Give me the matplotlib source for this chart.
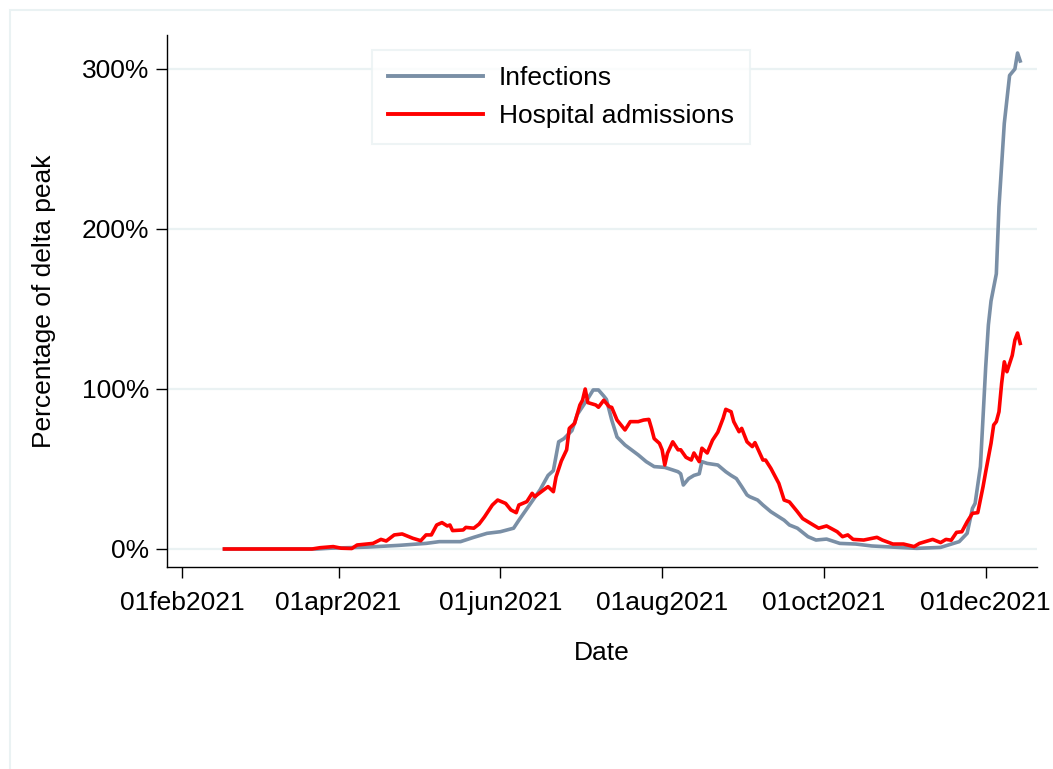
import numpy as np
import matplotlib
matplotlib.use("Agg")
import matplotlib.pyplot as plt
from matplotlib.patches import Rectangle

# ---- data (days since 01feb2021, % of delta peak) ----
base_date = "2021-02-01"

inf_days = [16, 51, 56, 70, 82, 92, 97, 105, 110, 115, 120, 125, 127, 131, 135, 138,
            140, 142, 144, 147, 149, 153, 155, 157, 159, 160, 162, 164, 167, 172, 175,
            178, 182, 185, 187, 188, 189, 191, 193, 195, 196, 198, 202, 205, 207, 209,
            211, 213, 214, 217, 219, 222, 227, 229, 232, 236, 239, 243, 248, 254, 260,
            270, 277, 286, 293, 296, 298, 299, 301, 302, 303, 304, 305, 307, 308, 310,
            312, 313, 314, 315, 316]
inf_vals = [0, 0, 0.5, 1.2, 2.3, 3.5, 4.6, 4.6, 7.3, 9.8, 10.8, 13, 18, 27.5, 37, 46,
            49, 67, 69, 74, 84, 94, 99.4, 99.4, 95.6, 93.5, 80.6, 70, 65, 58.8, 54.6,
            51.5, 51, 49.4, 48.3, 47, 40, 44, 46, 47, 54.6, 53.5, 52.5, 48.3, 46, 44,
            39, 33.8, 32.7, 30.6, 27.5, 23.3, 18, 15, 13, 7.7, 5.6, 6.2, 3.5, 3.1, 1.9,
            1, 0.4, 1, 4.6, 9.8, 25.4, 28.5, 51.5, 82.7, 114, 140, 155, 172, 214, 266,
            296, 298, 300, 310, 305]

hosp_days = [16, 49, 52, 57, 60, 64, 66, 72, 75, 77, 80, 83, 87, 90, 92, 94, 96, 98,
             100, 101, 102, 106, 107, 110, 112, 114, 117, 119, 122, 124, 126, 127, 130,
             132, 133, 134, 138, 140, 141, 143, 145, 146, 148, 150, 151, 152, 153, 156,
             157, 159, 161, 162, 164, 166, 167, 169, 172, 174, 176, 177, 178, 180, 181,
             182, 183, 185, 187, 188, 190, 192, 193, 195, 196, 198, 200, 202, 204, 205,
             207, 208, 210, 211, 213, 215, 216, 219, 220, 222, 225, 227, 229, 232, 234,
             237, 240, 243, 247, 249, 251, 253, 257, 262, 264, 268, 272, 276, 278, 283,
             286, 288, 290, 292, 294, 296, 298, 300, 302, 303, 305, 306, 307, 308, 309,
             310, 311, 313, 314, 315, 316]
hosp_vals = [0, 0, 0.8, 1.5, 0.5, 0.3, 2.5, 3.5, 6, 5, 8.8, 9.4, 6.7, 5.2, 8.8, 8.8,
             15, 16.5, 14.4, 15, 11.5, 11.9, 13.5, 13, 15.6, 20, 27.5, 30.6, 28.5, 24.4,
             22.7, 27.5, 29.6, 34.8, 32.7, 34, 39, 35.8, 45, 55, 62, 75.4, 78.5, 90, 93,
             100, 91.5, 90, 88.6, 93, 89, 88.5, 80.6, 76.5, 74.4, 79.6, 79.6, 80.6, 81,
             75.4, 69, 66, 62, 52.5, 59.8, 67, 62, 62, 57.3, 55.6, 60, 54.6, 63, 60, 68,
             73, 81.7, 87.3, 85.8, 79.6, 73.3, 75.4, 67, 64, 66.5, 55.6, 55.6, 50.4, 41,
             30.6, 29.4, 23.3, 19, 16, 13, 14.4, 10.8, 7.7, 8.8, 6, 5.6, 7.3, 5.6, 3.1,
             3.1, 1.5, 3.5, 6, 4, 6, 5.5, 10.4, 10.8, 17, 22.3, 22.7, 39, 48.3, 66, 77.5,
             79.6, 85.8, 103.5, 117, 110.8, 121, 130.6, 135, 128.5]

tick_dates = ["2021-02-01", "2021-04-01", "2021-06-01", "2021-08-01", "2021-10-01", "2021-12-01"]
tick_labels = ["01feb2021", "01apr2021", "01jun2021", "01aug2021", "01oct2021", "01dec2021"]
y_ticks = [0, 100, 200, 300]
y_labels = ["0%", "100%", "200%", "300%"]
series_names = ["Infections", "Hospital admissions"]

# ---- build dates ----
b = np.datetime64(base_date)
inf_x = b + np.array(inf_days).astype("timedelta64[D]")
hosp_x = b + np.array(hosp_days).astype("timedelta64[D]")
tick_x = np.array(tick_dates, dtype="datetime64[D]")

plt.rcParams["font.family"] = ["Liberation Sans", "DejaVu Sans"]
FS = 19

W, H = 1053, 769
fig = plt.figure(figsize=(W / 100, H / 100), dpi=100)
fig.patch.set_facecolor("white")

# outer graph-region border
fig.patches.append(Rectangle((9.5 / W, -0.05), 1.2, 1 - 10 / H + 0.05,
                             transform=fig.transFigure, fill=False,
                             edgecolor="#eaf2f3", linewidth=1.5, zorder=0))

ax = fig.add_axes([167 / W, 1 - 567 / H, (1037 - 167) / W, (567 - 35) / H])
ax.set_facecolor("white")

ax.plot(inf_x, inf_vals, color="#7a8fa6", lw=2.6, label=series_names[0], zorder=3)
ax.plot(hosp_x, hosp_vals, color="#ff0000", lw=2.6, label=series_names[1], zorder=4)

ax.set_ylim(-11.25, 321.25)
ax.set_xlim(b - np.timedelta64(6, "D") + np.timedelta64(8, "h"),
            b + np.timedelta64(322, "D") + np.timedelta64(8, "h"))

ax.set_yticks(y_ticks)
ax.set_yticklabels(y_labels)
ax.set_xticks(tick_x)
ax.set_xticklabels(tick_labels)

for y in y_ticks:
    ax.axhline(y, color="#eaf2f3", lw=1.6, zorder=1)

for s in ["top", "right"]:
    ax.spines[s].set_visible(False)
for s in ["left", "bottom"]:
    ax.spines[s].set_color("black")
    ax.spines[s].set_linewidth(1.0)

ax.tick_params(axis="y", length=8, width=1, pad=5, labelsize=FS, colors="black")
ax.tick_params(axis="x", length=8, width=1, pad=9, labelsize=FS, colors="black")

ax.set_xlabel("Date", fontsize=FS, labelpad=19)
ax.set_ylabel("Percentage of delta peak", fontsize=FS, labelpad=18)

leg = ax.legend(loc="upper left", bbox_to_anchor=((372 - 167) / 870, (567 - 50) / 532),
                fontsize=FS, frameon=True, fancybox=False, handlelength=3.6,
                handletextpad=0.6, borderpad=0.6, labelspacing=0.55,
                borderaxespad=0)
leg.get_frame().set_edgecolor("#eaf2f3")
leg.get_frame().set_linewidth(1.5)
for l in leg.get_lines():
    l.set_linewidth(2.8)

fig.savefig("out.png", dpi=100, facecolor="white")
